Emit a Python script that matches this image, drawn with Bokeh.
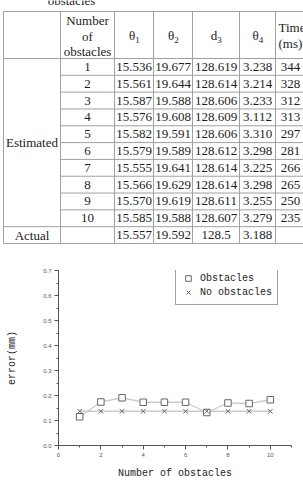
from bokeh.plotting import figure
from bokeh.models import Range1d, FixedTicker, Legend, LegendItem, ColumnDataSource, CustomJSTickFormatter
from bokeh.layouts import column, row
from bokeh.embed import file_html
from bokeh.resources import INLINE
from bokeh.core.properties import value

# ---------------- data ----------------
caption = "obstacles"
row_group = ["Estimated", "Actual"]
n_obstacles = ["1", "2", "3", "4", "5", "6", "7", "8", "9", "10"]
theta1 = ["15.536", "15.561", "15.587", "15.576", "15.582", "15.579", "15.555", "15.566", "15.570", "15.585"]
theta2 = ["19.677", "19.644", "19.588", "19.608", "19.591", "19.589", "19.641", "19.629", "19.619", "19.588"]
d3 = ["128.619", "128.614", "128.606", "128.609", "128.606", "128.612", "128.614", "128.614", "128.611", "128.607"]
theta4 = ["3.238", "3.214", "3.233", "3.112", "3.310", "3.298", "3.225", "3.298", "3.255", "3.279"]
time_ms = ["344", "328", "312", "313", "297", "281", "266", "265", "250", "235"]
actual = ["15.557", "19.592", "128.5", "3.188"]
head_main = ["θ", "θ", "d", "θ"]
head_sub = ["1", "2", "3", "4"]

x_obstacles = [1, 2, 3, 4, 5, 6, 7, 8, 9, 10]
err_obstacles = [0.115, 0.174, 0.191, 0.173, 0.173, 0.173, 0.132, 0.170, 0.168, 0.183]
err_no_obstacles = [0.137, 0.137, 0.137, 0.137, 0.137, 0.137, 0.137, 0.137, 0.137, 0.137]
y_ticks = [0.0, 0.1, 0.2, 0.3, 0.4, 0.5, 0.6, 0.7]
x_ticks = [0, 2, 4, 6, 8, 10]

# ---------------- table layout ----------------
W, TH = 303, 250
col_edges = [3, 60, 114, 153, 192, 239, 275, 318]
top, head_bot = 11, 58
n_rows = len(n_obstacles) + 1
row_h = (243 - head_bot) / n_rows
bottom = head_bot + n_rows * row_h
LINE = "#a0a0a0"
TXT = "#1c1c1c"
SERIF = value("Liberation Serif")

t = figure(width=W, height=TH, x_range=Range1d(0, W), y_range=Range1d(TH, 0),
           output_backend="svg", toolbar_location=None, min_border=0,
           x_axis_location=None, y_axis_location=None)
t.grid.visible = False
t.outline_line_color = None

# vertical lines
t.segment(x0=col_edges[:-1], y0=[top] * (len(col_edges) - 1), x1=col_edges[:-1],
          y1=[bottom] * (len(col_edges) - 1), line_color=LINE, line_width=1)
# horizontal lines
hx0, hy, hx1 = [], [], []
for yy in [top, head_bot, head_bot + len(n_obstacles) * row_h, bottom]:
    hx0.append(col_edges[0]); hx1.append(col_edges[-1]); hy.append(yy)
for k in range(1, len(n_obstacles)):
    hx0.append(col_edges[1]); hx1.append(col_edges[-1]); hy.append(head_bot + k * row_h)
t.segment(x0=hx0, y0=hy, x1=hx1, y1=hy, line_color=LINE, line_width=1)

centers = [(col_edges[i] + col_edges[i + 1]) / 2 for i in range(len(col_edges) - 1)]
centers[-1] = 290
FS = "13px"

# caption fragment (only its lower part shows at the top edge, as in the source)
t.text(x=[71], y=[-0.5], text=[caption], text_align="center", text_baseline="alphabetic",
       text_font=SERIF, text_font_size=FS, text_color=TXT)

# header
t.text(x=[centers[1]] * 3, y=[20, 35.5, 50.5], text=["Number", "of", "obstacles"],
       text_align="center", text_baseline="middle", text_font=SERIF,
       text_font_size=FS, text_color=TXT)
t.text(x=[c - 2 for c in centers[2:6]], y=[35] * 4, text=head_main, text_align="center",
       text_baseline="middle", text_font=SERIF, text_font_size=FS, text_color=TXT)
t.text(x=[c + 3.5 for c in centers[2:6]], y=[39] * 4, text=head_sub, text_align="center",
       text_baseline="middle", text_font=SERIF, text_font_size="9px", text_color=TXT)
t.text(x=[centers[6] - 12] * 2, y=[27, 42.5], text=["Time", "(ms)"], text_align="left",
       text_baseline="middle", text_font=SERIF, text_font_size=FS, text_color=TXT)

# body
row_y = [head_bot + (i + 0.5) * row_h for i in range(len(n_obstacles))]
for ci, col in enumerate([n_obstacles, theta1, theta2, d3, theta4, time_ms]):
    t.text(x=[centers[ci + 1]] * len(col), y=row_y, text=col, text_align="center",
           text_baseline="middle", text_font=SERIF, text_font_size=FS, text_color=TXT)
act_y = head_bot + (len(n_obstacles) + 0.5) * row_h
t.text(x=centers[2:6], y=[act_y] * 4, text=actual, text_align="center",
       text_baseline="middle", text_font=SERIF, text_font_size=FS, text_color=TXT)
t.text(x=[centers[0]] * 2, y=[(head_bot + head_bot + len(n_obstacles) * row_h) / 2, act_y],
       text=row_group, text_align="center", text_baseline="middle", text_font=SERIF,
       text_font_size=FS, text_color=TXT)

# ---------------- chart ----------------
MONO = "Liberation Mono"
AX = "#555555"
p = figure(width=W, height=481 - TH, x_range=Range1d(0, 11), y_range=Range1d(0, 0.7),
           output_backend="svg", toolbar_location=None,
           min_border_left=58, min_border_right=12, min_border_top=20, min_border_bottom=33)
p.grid.visible = False
p.outline_line_color = None

src = ColumnDataSource(dict(x=x_obstacles, a=err_obstacles, b=err_no_obstacles))
p.line("x", "a", source=src, line_color="#cccccc", line_width=1.3)
p.line("x", "b", source=src, line_color="#cccccc", line_width=1.3)
r1 = p.scatter("x", "a", source=src, marker="square", size=6.5, fill_color="white",
               line_color="#666666", line_width=1)
r2 = p.scatter("x", "b", source=src, marker="x", size=6.5, line_color="#666666", line_width=1)

p.yaxis.ticker = FixedTicker(ticks=y_ticks, minor_ticks=[v + 0.05 for v in y_ticks[:-1]])
p.xaxis.ticker = FixedTicker(ticks=x_ticks, minor_ticks=[v + 1 for v in x_ticks])
p.yaxis.formatter = CustomJSTickFormatter(code="return tick.toFixed(1)")
for ax in (p.xaxis, p.yaxis):
    ax.axis_line_color = AX
    ax.major_tick_line_color = AX
    ax.minor_tick_line_color = AX
    ax.major_tick_out = 4
    ax.major_tick_in = 0
    ax.minor_tick_out = 2
    ax.minor_tick_in = 0
    ax.major_label_text_font_size = "6px"
    ax.major_label_text_color = "#555555"
    ax.major_label_standoff = 3
    ax.axis_label_text_font = MONO
    ax.axis_label_text_font_size = "10px"
    ax.axis_label_text_font_style = "normal"
    ax.axis_label_text_color = "#222222"
p.xaxis.axis_label = "Number of obstacles"
p.yaxis.axis_label = "error(mm)"
p.xaxis.axis_label_standoff = 8
p.yaxis.axis_label_standoff = 22

legend = Legend(items=[LegendItem(label="Obstacles", renderers=[r1]),
                       LegendItem(label="No obstacles", renderers=[r2])],
                location=(117, 140), border_line_color="#444444", border_line_width=1,
                background_fill_color="white", background_fill_alpha=1,
                padding=5, spacing=0, glyph_width=14, glyph_height=14, label_height=14,
                label_standoff=5, margin=0, label_text_font=MONO,
                label_text_font_size="10px", label_text_color="#222222")
p.add_layout(legend, "center")

# keep the table's frame independent of the chart's frame
try:
    t.frame_align = False
    p.frame_align = False
    layout = column(t, p, spacing=0)
except Exception:
    layout = column(row(t), row(p), spacing=0)

open("out.html", "w").write(file_html(layout, INLINE))
